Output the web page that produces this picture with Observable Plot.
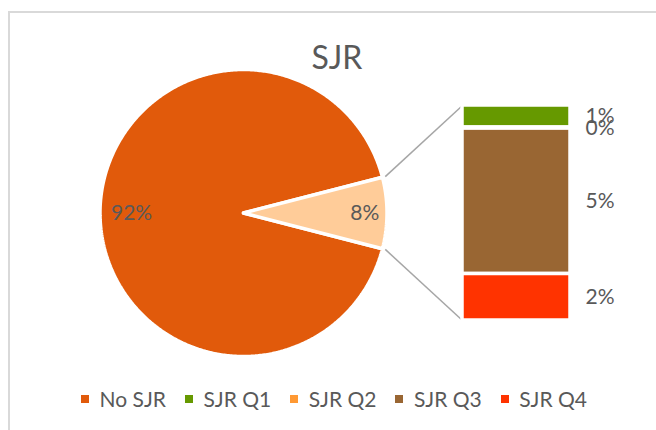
<!DOCTYPE html>
<html><head><meta charset="utf-8">
<script src="https://cdn.jsdelivr.net/npm/d3@7"></script>
<script src="https://cdn.jsdelivr.net/npm/@observablehq/plot@0.6"></script>
<style>
body{margin:0;background:#fff;font-family:Lato,"Open Sans",sans-serif;}
#wrap{position:relative;width:656px;height:430px;overflow:hidden;background:#fff;}
#frame{position:absolute;left:8px;top:11px;width:800px;height:600px;border-left:2px solid #d9d9d9;border-top:2px solid #d9d9d9;}
#title{position:absolute;left:337px;top:41px;transform:translateX(-50%);font-size:32px;color:#595959;font-family:Lato,sans-serif;line-height:1;}
#chart{position:absolute;left:0;top:0;}
#legend{position:absolute;left:0;top:382px;width:656px;}
.lg-swatches-wrap{justify-content:center !important;padding-left:12px;}
.lg-swatch{margin-right:19px !important;}
.lg-swatch:last-child{margin-right:0 !important;}
</style>
</head><body>
<div id="wrap">
  <div id="frame"></div>
  <div id="chart"></div>
  <div id="title">SJR</div>
  <div id="legend"></div>
</div>
<script>
// ---- data ----
const categories = ["No SJR", "SJR Q1", "SJR Q2", "SJR Q3", "SJR Q4"];
const shares = [92.0, 0.82, 0.04, 5.41, 1.73];   // percent of total
const barCategories = ["SJR Q1", "SJR Q2", "SJR Q3", "SJR Q4"];
const barShares = [0.82, 0.04, 5.41, 1.73];
const pieLabels = ["No SJR", "Other"];

// ---- style ----
const legendColors = ["#E15A0B", "#669900", "#FF9933", "#996633", "#FF3300"];
const sliceColors = {"No SJR": "#E15A0B", "Other": "#FFCC99"};
const barColors = {"SJR Q1": "#669900", "SJR Q2": "#FF9933", "SJR Q3": "#996633", "SJR Q4": "#FF3300"};
const labelColor = "#595959";

// ---- layout (pixels) ----
const W = 656, H = 430, CX = 243, CY = 212.5, R = 143.5;
const barX0 = (462 - CX) / R, barX1 = (570 - CX) / R;
const barHalf = 107.5 / R;
const barLabelX = (585 - CX) / R;

const otherTotal = d3.sum(barShares);
const noSJR = shares[0];
const total = noSJR + otherTotal;
const half = Math.PI * otherTotal / total;

// pie slices as polygons
function wedge(name, a0, a1) {
  const pts = [{name, x: 0, y: 0}];
  const n = Math.max(2, Math.ceil((a1 - a0) / 0.01));
  for (let i = 0; i <= n; i++) {
    const a = a0 + (a1 - a0) * i / n;
    pts.push({name, x: Math.cos(a), y: Math.sin(a)});
  }
  pts.push({name, x: 0, y: 0});
  return pts;
}
const pieData = [
  {name: pieLabels[0], value: noSJR, a0: half, a1: 2 * Math.PI - half, mid: Math.PI, lr: 0.78},
  {name: pieLabels[1], value: otherTotal, a0: -half, a1: half, mid: 0, lr: 0.845}
];

// bar segments
let cum = 0;
const barData = barCategories.map((c, i) => {
  const s = cum; cum += barShares[i];
  return {
    name: c, value: barShares[i],
    y1: barHalf - 2 * barHalf * s / otherTotal,
    y2: barHalf - 2 * barHalf * cum / otherTotal
  };
});

const connectors = [
  {x1: 1.02 * Math.cos(half), y1: 1.02 * Math.sin(half), x2: barX0, y2: barHalf},
  {x1: 1.02 * Math.cos(half), y1: -1.02 * Math.sin(half), x2: barX0, y2: -barHalf}
];

const marks = [
  Plot.link(connectors, {x1: "x1", y1: "y1", x2: "x2", y2: "y2", stroke: "#A6A6A6", strokeWidth: 1.5})
];
for (const s of pieData) {
  marks.push(Plot.line(wedge(s.name, s.a0, s.a1), {x: "x", y: "y", fill: sliceColors[s.name], stroke: "white", strokeWidth: 3.5, strokeLinejoin: "miter", curve: "linear"}));
}
marks.push(Plot.text(pieData, {
  x: d => d.lr * Math.cos(d.mid), y: d => d.lr * Math.sin(d.mid),
  text: d => Math.round(d.value / total * 100) + "%",
  fill: labelColor, fontSize: 21, fontFamily: "Lato"
}));
for (const b of barData) {
  marks.push(Plot.rect([b], {x1: barX0, x2: barX1, y1: "y1", y2: "y2", fill: barColors[b.name], stroke: "white", strokeWidth: 3.5}));
}
marks.push(Plot.text(barData, {
  x: barLabelX, y: d => (d.y1 + d.y2) / 2,
  text: d => Math.round(d.value) + "%",
  textAnchor: "start", fill: labelColor, fontSize: 21, fontFamily: "Lato"
}));

const chart = Plot.plot({
  width: W, height: H,
  marginLeft: 0, marginRight: 0, marginTop: 0, marginBottom: 0,
  x: {domain: [-CX / R, (W - CX) / R], axis: null},
  y: {domain: [(CY - H) / R, CY / R], axis: null},
  style: {background: "transparent"},
  marks
});
document.getElementById("chart").appendChild(chart);

const legend = Plot.legend({
  color: {domain: categories, range: legendColors},
  legend: "swatches",
  swatchSize: 8,
  className: "lg",
  style: {fontSize: "21px", fontFamily: "Lato, sans-serif", color: labelColor}
});
document.getElementById("legend").appendChild(legend);
</script>
</body></html>
